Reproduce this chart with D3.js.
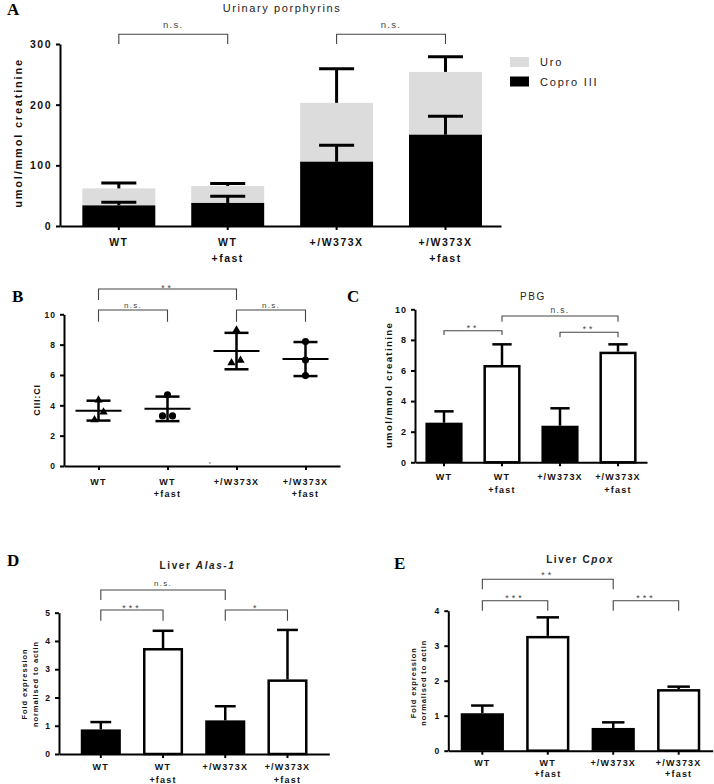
<!DOCTYPE html>
<html><head><meta charset="utf-8">
<script src="https://cdn.jsdelivr.net/npm/d3@7"></script>
<style>body{margin:0;background:#fff} svg{display:block}</style>
</head><body>
<svg id="fig" width="714" height="784"></svg>
<script>
// ---------------- DATA ----------------
const groupKeys = ["WT", "WT+fast", "+/W373X", "+/W373X+fast"];
const groupLabels = [["WT"], ["WT", "+fast"], ["+/W373X"], ["+/W373X", "+fast"]];

// Panel A: Urinary porphyrins (stacked)
const aCopro = [34, 38, 106, 150.5];
const aCoproSD = [5, 11, 27, 30.5];
const aUro = [28, 28, 97, 103.5];
const aTotalSD = [9, 4, 56, 25];
const aTicks = [0, 100, 200, 300];
const aSig = [[0, 1, "n.s."], [2, 3, "n.s."]];
const aLegend = ["Uro", "Copro III"];

// Panel B: CIII:CI scatter
const bPoints = [[4.35, 3.55, 3.05], [4.7, 3.3, 3.3], [8.96, 6.8, 6.97], [8.2, 6.99, 5.96]];
const bShapes = ["triangle", "circle", "triangle", "circle"];
const bTicks = [0, 2, 4, 6, 8, 10];
const bSig = [[0, 1, "n.s."], [0, 2, "**"], [2, 3, "n.s."]];

// Panel C: PBG
const cMean = [2.59, 6.36, 2.39, 7.23];
const cSD = [0.74, 1.35, 1.14, 0.48];
const cTicks = [0, 2, 4, 6, 8, 10];
const cSig = [[0, 1, "**"], [1, 3, "n.s."], [2, 3, "**"]];

// Panel D: Liver Alas-1
const dMean = [0.87, 3.75, 1.19, 2.64];
const dSD = [0.26, 0.61, 0.5, 1.75];
const dTicks = [0, 1, 2, 3, 4, 5];
const dSig = [[0, 2, "n.s."], [0, 1, "***"], [2, 3, "*"]];

// Panel E: Liver Cpox
const eMean = [1.07, 3.28, 0.65, 1.76];
const eSD = [0.22, 0.53, 0.16, 0.07];
const eTicks = [0, 1, 2, 3, 4];
const eSig = [[0, 2, "**"], [0, 1, "***"], [2, 3, "***"]];

const barFilled = [true, false, true, false];

// ---------------- RENDER ----------------
const svg = d3.select("#fig");
const SANS = "'Liberation Sans', Arial, Helvetica, sans-serif";
const SERIF = "'Liberation Serif', 'Times New Roman', serif";

function setupAxes(cfg) {
  const g = svg.append("g");
  let x;
  if (cfg.point) {
    x = d3.scalePoint().domain(groupKeys).range([cfg.x0, cfg.x1]).padding(0.5);
  } else {
    x = d3.scaleBand().domain(groupKeys).range([cfg.x0, cfg.x1])
      .paddingInner(cfg.pi).paddingOuter(cfg.po).align(cfg.align == null ? 0.5 : cfg.align);
  }
  const y = d3.scaleLinear().domain([0, cfg.max]).range([cfg.yb, cfg.yt]);
  const cx = k => x(k) + (cfg.point ? 0 : x.bandwidth() / 2);

  const ya = g.append("g").attr("transform", `translate(${cfg.x0},0)`)
    .call(d3.axisLeft(y).tickValues(cfg.ticks).tickFormat(d3.format("d"))
      .tickSize(cfg.tick).tickSizeOuter(0).tickPadding(cfg.tpad));
  ya.select(".domain").attr("stroke", "#000").attr("stroke-width", cfg.axw);
  ya.selectAll(".tick line").attr("stroke", "#000").attr("stroke-width", cfg.axw);
  ya.selectAll(".tick text").attr("font-family", SANS).attr("font-weight", "bold")
    .attr("font-size", cfg.tfs).attr("letter-spacing", cfg.tls).attr("fill", "#111");

  const xa = g.append("g").attr("transform", `translate(0,${cfg.yb})`)
    .call(d3.axisBottom(x).tickSize(cfg.tick).tickSizeOuter(0).tickFormat(""));
  xa.select(".domain").attr("stroke", "#000").attr("stroke-width", cfg.axw);
  xa.selectAll(".tick line").attr("stroke", "#000").attr("stroke-width", cfg.axw);

  groupKeys.forEach((k, i) => {
    groupLabels[i].forEach((line, j) => {
      g.append("text").attr("x", cx(k)).attr("y", cfg.lab[j])
        .attr("text-anchor", "middle").attr("font-family", SANS).attr("font-weight", "bold")
        .attr("font-size", cfg.lfs).attr("letter-spacing", cfg.lls).attr("fill", "#111").text(line);
    });
  });
  return {g, x, y, cx};
}

function yLabel(g, lines, xs, yc, fs, ls) {
  lines.forEach((t, i) => {
    g.append("text").attr("transform", `translate(${xs[i]},${yc}) rotate(-90)`)
      .attr("text-anchor", "middle").attr("dominant-baseline", "central")
      .attr("font-family", SANS).attr("font-weight", "bold").attr("font-size", fs)
      .attr("letter-spacing", ls).attr("fill", "#111").text(t);
  });
}

function brackets(g, cx, sig, layout, fsNs, fsStar) {
  sig.forEach((s, i) => {
    const [a, b, lab] = s;
    const [top, bot, ty] = layout[i];
    const x1 = cx(groupKeys[a]), x2 = cx(groupKeys[b]);
    g.append("path").attr("d", `M${x1},${bot}V${top}H${x2}V${bot}`)
      .attr("fill", "none").attr("stroke", "#444").attr("stroke-width", 1.1);
    const ns = lab === "n.s.";
    g.append("text").attr("x", (x1 + x2) / 2).attr("y", ty)
      .attr("text-anchor", "middle").attr("font-family", SANS)
      .attr("font-size", ns ? fsNs : fsStar).attr("letter-spacing", ns ? 1.3 : 3)
      .attr("fill", "#444").text(lab);
  });
}

function panelLetter(t, x, y) {
  svg.append("text").attr("x", x).attr("y", y).attr("font-family", SERIF)
    .attr("font-weight", "bold").attr("font-size", 17).attr("fill", "#000").text(t);
}

function title(parts, x, y, fs, weight) {
  const t = svg.append("text").attr("x", x).attr("y", y).attr("text-anchor", "middle")
    .attr("font-family", SANS).attr("font-size", fs).attr("font-weight", weight)
    .attr("letter-spacing", 1.6).attr("fill", "#222");
  parts.forEach(p => t.append("tspan").attr("font-style", p[1] ? "italic" : "normal").text(p[0]));
}

function errUp(g, xc, y0, y1, capW, sw) {
  g.append("line").attr("x1", xc).attr("x2", xc).attr("y1", y0).attr("y2", y1)
    .attr("stroke", "#000").attr("stroke-width", sw);
  g.append("line").attr("x1", xc - capW / 2).attr("x2", xc + capW / 2).attr("y1", y1).attr("y2", y1)
    .attr("stroke", "#000").attr("stroke-width", sw);
}

// ---- Panel A ----
(function () {
  const P = setupAxes({x0: 60, x1: 501, yb: 226, yt: 44, max: 300, ticks: aTicks, pi: 0.33, po: 0.19, align: 0.54,
    tick: 4, tpad: 4, axw: 2, tfs: 10.5, tls: 1.5, lab: [245.5, 261.5], lfs: 10.5, lls: 1.5});
  const {g, x, y, cx} = P;
  const bw = x.bandwidth();
  groupKeys.forEach((k, i) => {
    const c = aCopro[i], t = aCopro[i] + aUro[i];
    g.append("rect").attr("x", x(k)).attr("width", bw).attr("y", y(t)).attr("height", y(c) - y(t)).attr("fill", "#dcdcdc");
    g.append("rect").attr("x", x(k)).attr("width", bw).attr("y", y(c)).attr("height", y(0) - y(c)).attr("fill", "#000");
    errUp(g, cx(k), y(c), y(c + aCoproSD[i]), bw * 0.48, 3);
    errUp(g, cx(k), y(t), y(t + aTotalSD[i]), bw * 0.48, 3);
  });
  brackets(g, cx, aSig, [[34.3, 44, 28], [34.3, 44, 28]], 9.5, 9);
  yLabel(g, ["umol/mmol creatinine"], [18], 133, 11, 1.8);
  title([["Urinary porphyrins", false]], 282, 12, 11, "normal");
  const lg = svg.append("g");
  const lgFill = ["#dcdcdc", "#000"];
  aLegend.forEach((t, i) => {
    lg.append("rect").attr("x", 510).attr("y", 57 + i * 19.5).attr("width", 19).attr("height", 10).attr("fill", lgFill[i]);
    lg.append("text").attr("x", 540).attr("y", 66 + i * 19.5).attr("font-family", SANS).attr("font-size", 11)
      .attr("letter-spacing", 1.8).attr("fill", "#222").text(t);
  });
  panelLetter("A", 7, 15);
})();

// ---- Panel B ----
(function () {
  const P = setupAxes({point: true, x0: 64, x1: 340, yb: 466, yt: 314.3, max: 10, ticks: bTicks,
    tick: 4, tpad: 4, axw: 2, tfs: 8.5, tls: 1, lab: [485, 496.6], lfs: 9, lls: 1.2});
  const {g, y, cx} = P;
  const jitter = [[0, 5, -4], [0, -5, 5], [0, -5, 4], [0, 0, 0]];
  groupKeys.forEach((k, i) => {
    const pts = bPoints[i];
    const m = d3.mean(pts), sd = d3.deviation(pts);
    const xc = cx(k);
    const sym = d3.symbol().type(bShapes[i] === "triangle" ? d3.symbolTriangle : d3.symbolCircle)
      .size(bShapes[i] === "triangle" ? 30 : 40);
    pts.forEach((v, j) => {
      g.append("path").attr("d", sym()).attr("transform", `translate(${xc + jitter[i][j]},${y(v)})`).attr("fill", "#000");
    });
    g.append("line").attr("x1", xc).attr("x2", xc).attr("y1", y(m + sd)).attr("y2", y(m - sd)).attr("stroke", "#000").attr("stroke-width", 2.5);
    [m + sd, m - sd].forEach(v => g.append("line").attr("x1", xc - 12).attr("x2", xc + 12).attr("y1", y(v)).attr("y2", y(v)).attr("stroke", "#000").attr("stroke-width", 2.5));
    g.append("line").attr("x1", xc - 23).attr("x2", xc + 23).attr("y1", y(m)).attr("y2", y(m)).attr("stroke", "#000").attr("stroke-width", 2);
  });
  brackets(g, cx, bSig, [[310, 321.7, 307.5], [289, 300, 290.5], [310, 321.7, 307.5]], 8, 8.5);
  g.append("text").attr("x", 210).attr("y", 466).attr("text-anchor", "middle").attr("font-family", SANS)
    .attr("font-size", 6).attr("fill", "#666").text("*");
  yLabel(g, ["CIII:CI"], [36.7], 400, 9, 0.8);
  panelLetter("B", 12, 302);
})();

function barPanel(cfg, means, sds, sig) {
  const P = setupAxes(cfg);
  const {g, x, y, cx} = P;
  const bw = x.bandwidth();
  groupKeys.forEach((k, i) => {
    const sw = 2.5;
    errUp(g, cx(k), y(means[i]), y(means[i] + sds[i]), bw * 0.52, 2.5);
    if (barFilled[i]) {
      g.append("rect").attr("x", x(k)).attr("width", bw).attr("y", y(means[i])).attr("height", y(0) - y(means[i])).attr("fill", "#000");
    } else {
      g.append("rect").attr("x", x(k) + sw / 2).attr("width", bw - sw).attr("y", y(means[i]) + sw / 2)
        .attr("height", y(0) - y(means[i]) - sw / 2).attr("fill", "#fff").attr("stroke", "#000").attr("stroke-width", sw);
    }
  });
  brackets(g, cx, sig, cfg.br, cfg.nsfs, cfg.stfs);
  return P;
}

// ---- Panel C ----
(function () {
  const P = barPanel({x0: 415, x1: 647, yb: 462.3, yt: 309.3, max: 10, ticks: cTicks, pi: 0.36, po: 0.18,
    tick: 4, tpad: 4, axw: 2, tfs: 9, tls: 1, lab: [480, 493.3], lfs: 9, lls: 1.2,
    br: [[330.7, 335, 330.5], [316, 321.7, 312.5], [332.3, 337.3, 332]], nsfs: 8.5, stfs: 8.5}, cMean, cSD, cSig);
  yLabel(P.g, ["umol/mmol creatinine"], [388], 385, 9.5, 1.4);
  title([["PBG", false]], 533, 299.6, 10, "normal");
  panelLetter("C", 347, 302);
})();

// ---- Panel D ----
(function () {
  const P = barPanel({x0: 59, x1: 329.3, yb: 754, yt: 612.7, max: 5, ticks: dTicks, pi: 0.356, po: 0.35,
    tick: 4, tpad: 4, axw: 2, tfs: 8.5, tls: 1, lab: [770, 782.6], lfs: 9, lls: 1.2,
    br: [[590, 600, 585.5], [610, 620.7, 610.5], [610, 620.7, 610.5]], nsfs: 8, stfs: 9}, dMean, dSD, dSig);
  yLabel(P.g, ["Fold expression", "normalised to actin"], [24.5, 35], 684, 7.5, 0.9);
  title([["Liver ", false], ["Alas-1", true]], 197.5, 568.5, 10, "bold");
  panelLetter("D", 7, 566);
})();

// ---- Panel E ----
(function () {
  const P = barPanel({x0: 448.3, x1: 712.7, yb: 750.7, yt: 610.7, max: 4, ticks: eTicks, pi: 0.34, po: 0.19,
    tick: 4, tpad: 4, axw: 2, tfs: 8.5, tls: 1, lab: [766, 776.8], lfs: 9, lls: 1.2,
    br: [[579.3, 589.3, 578], [600.7, 610.7, 601.3], [600.7, 610.7, 601.3]], nsfs: 8, stfs: 9}, eMean, eSD, eSig);
  yLabel(P.g, ["Fold expression", "normalised to actin"], [413, 423.5], 682.7, 7.5, 0.9);
  title([["Liver C", false], ["pox", true]], 580, 562.5, 10, "bold");
  panelLetter("E", 394, 569);
})();
</script>
</body></html>
